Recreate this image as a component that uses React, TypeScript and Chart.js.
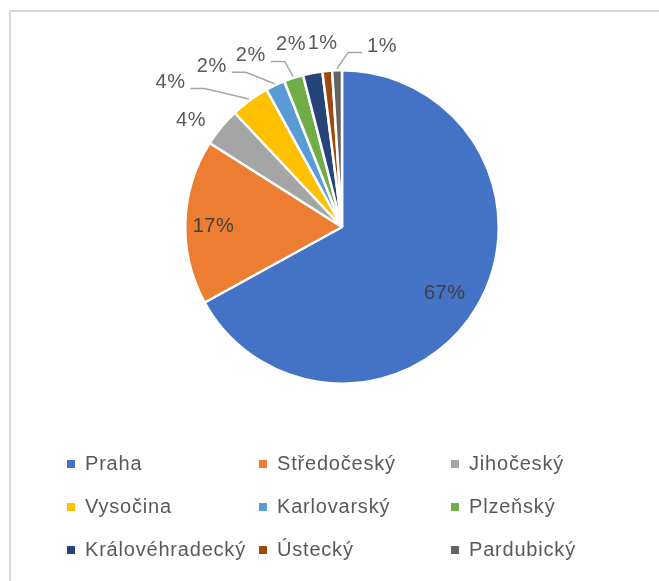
import React, { useEffect, useRef } from "react";
import { Chart, registerables } from "chart.js";

Chart.register(...registerables);

// ---- data ----
const categories = [
  "Praha",
  "Středočeský",
  "Jihočeský",
  "Vysočina",
  "Karlovarský",
  "Plzeňský",
  "Královéhradecký",
  "Ústecký",
  "Pardubický",
];
const shares = [67, 17, 4, 4, 2, 2, 2, 1, 1];
const percentLabels = ["67%", "17%", "4%", "4%", "2%", "2%", "2%", "1%", "1%"];

// ---- style ----
const sliceColors = [
  "#4472C4",
  "#ED7D31",
  "#A5A5A5",
  "#FFC000",
  "#5B9BD5",
  "#70AD47",
  "#264478",
  "#9E480E",
  "#636363",
];
// label placement relative to each slice (radius factor, angle shift in degrees, leader line)
const labelRadius = [0.78, 0.82, 1.18, 1.43, 1.32, 1.24, 1.21, 1.18, 1.18];
const labelShift = [2.3, -1.4, -4.3, -13.9, -13.8, -10, -4.8, -0.6, 14.3];
const labelLeader = [false, false, false, true, true, true, false, false, true];

const FONT = "20px 'Liberation Sans', Arial, sans-serif";
const INSIDE_COLOR = "#404040";
const OUTSIDE_COLOR = "#595959";
const LEGEND_COLOR = "#595959";

const decorPlugin = {
  id: "decor",
  beforeDraw(chart: any) {
    const ctx = chart.ctx;
    ctx.save();
    ctx.fillStyle = "#d9d9d9";
    ctx.fillRect(9, 10, chart.width, 2);
    ctx.fillRect(9, 10, 2, chart.height);
    ctx.restore();
  },
  afterDatasetsDraw(chart: any) {
    const ctx = chart.ctx;
    const meta = chart.getDatasetMeta(0);
    ctx.save();
    ctx.font = FONT;
    (ctx as any).letterSpacing = "0.5px";
    ctx.textAlign = "center";
    ctx.textBaseline = "middle";
    meta.data.forEach((arc: any, i: number) => {
      const p = arc.getProps(["x", "y", "startAngle", "endAngle", "outerRadius"], true);
      const mid = (p.startAngle + p.endAngle) / 2;
      const a = mid + (labelShift[i] * Math.PI) / 180;
      const R = p.outerRadius;
      const lx = p.x + Math.cos(a) * R * labelRadius[i];
      const ly = p.y + Math.sin(a) * R * labelRadius[i];
      const txt = percentLabels[i];
      ctx.fillStyle = labelRadius[i] < 1 ? INSIDE_COLOR : OUTSIDE_COLOR;
      ctx.fillText(txt, lx, ly);
      if (labelLeader[i]) {
        const w = ctx.measureText(txt).width;
        const ex = p.x + Math.cos(mid) * R * 1.01;
        const ey = p.y + Math.sin(mid) * R * 1.01;
        const dir = ex > lx ? 1 : -1;
        const sx = lx + dir * (w / 2 + 5);
        const sy = ly + 6;
        ctx.strokeStyle = "#a6a6a6";
        ctx.lineWidth = 1.5;
        ctx.beginPath();
        ctx.moveTo(sx, sy);
        ctx.lineTo(sx + dir * 14, sy);
        ctx.lineTo(ex, ey);
        ctx.stroke();
      }
    });
    ctx.restore();

    // legend grid
    ctx.save();
    ctx.font = FONT;
    (ctx as any).letterSpacing = "0.8px";
    ctx.textAlign = "left";
    ctx.textBaseline = "middle";
    const colX = [67, 259, 451];
    const rowY = [464, 507, 550];
    categories.forEach((c, i) => {
      const x = colX[i % 3];
      const y = rowY[Math.floor(i / 3)];
      ctx.fillStyle = sliceColors[i];
      ctx.fillRect(x, y - 4, 8, 8);
      ctx.fillStyle = LEGEND_COLOR;
      ctx.fillText(c, x + 18, y);
    });
    ctx.restore();
  },
};

export default function App() {
  const ref = useRef<HTMLCanvasElement | null>(null);
  useEffect(() => {
    if (!ref.current) return;
    const chart = new Chart(ref.current, {
      type: "pie",
      data: {
        labels: categories,
        datasets: [
          {
            data: shares,
            backgroundColor: sliceColors,
            borderColor: "#ffffff",
            borderWidth: 2.5,
          },
        ],
      },
      options: {
        responsive: false,
        animation: false,
        layout: { padding: { top: 69, bottom: 196, left: 184, right: 159 } },
        plugins: {
          legend: { display: false },
          tooltip: { enabled: false },
        },
      },
      plugins: [decorPlugin],
    });
    return () => chart.destroy();
  }, []);
  return (
    <div style={{ position: "fixed", left: 0, top: 0, width: 659, height: 581, background: "#fff" }}>
      <canvas ref={ref} width={659} height={581} />
    </div>
  );
}
